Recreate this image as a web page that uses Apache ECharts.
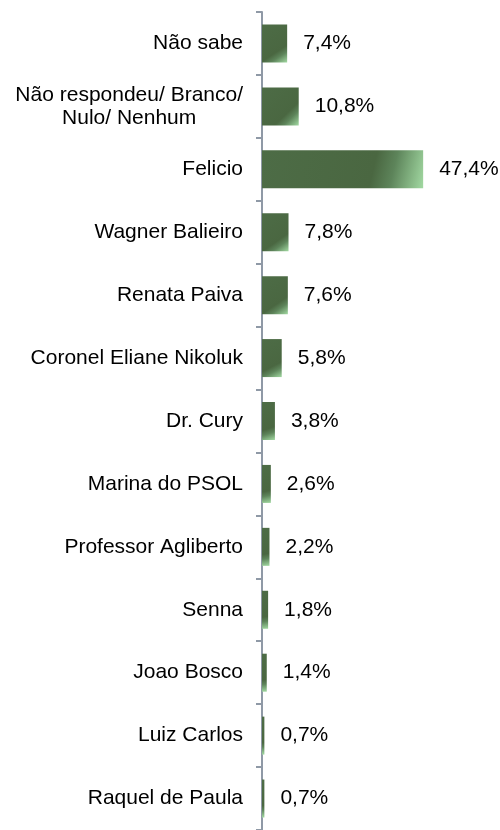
<!DOCTYPE html>
<html>
<head>
<meta charset="utf-8">
<script src="https://cdn.jsdelivr.net/npm/echarts@6/dist/echarts.min.js"></script>
<style>
  html, body { margin: 0; padding: 0; background: #fff; }
  #main { width: 500px; height: 830px; }
</style>
</head>
<body>
<div id="main"></div>
<script>
const categories = [
  'Não sabe',
  'Não respondeu/ Branco/\nNulo/ Nenhum',
  'Felicio',
  'Wagner Balieiro',
  'Renata Paiva',
  'Coronel Eliane Nikoluk',
  'Dr. Cury',
  'Marina do PSOL',
  'Professor Agliberto',
  'Senna',
  'Joao Bosco',
  'Luiz Carlos',
  'Raquel de Paula'
];
const values = [7.4, 10.8, 47.4, 7.8, 7.6, 5.8, 3.8, 2.6, 2.2, 1.8, 1.4, 0.7, 0.7];

const chart = echarts.init(document.getElementById('main'));

// dark green with a light corner bottom-right
const barFill = new echarts.graphic.LinearGradient(0, 0, 1, 1, [
  { offset: 0, color: '#4d6c46' },
  { offset: 0.68, color: '#4a6741' },
  { offset: 0.8, color: '#5d845a' },
  { offset: 1, color: '#a2d9a2' }
]);

chart.setOption({
  animation: false,
  grid: { left: 262, right: 34, top: 12, bottom: 0 },
  xAxis: {
    type: 'value',
    min: 0,
    max: 60,
    show: false
  },
  yAxis: {
    type: 'category',
    inverse: true,
    data: categories,
    axisLine: { show: true, lineStyle: { color: '#8f99a6', width: 2 } },
    axisTick: { show: true, length: 6, lineStyle: { color: '#8f99a6', width: 2 } },
    axisLabel: {
      margin: 19,
      color: '#000',
      fontFamily: 'Liberation Sans, Arial, sans-serif',
      fontSize: 21,
      lineHeight: 23,
      formatter: (v) => '{c|' + v + '}',
      rich: {
        c: {
          align: 'center',
          color: '#000',
          fontFamily: 'Liberation Sans, Arial, sans-serif',
          fontSize: 21,
          lineHeight: 23
        }
      }
    }
  },
  series: [{
    type: 'bar',
    data: values,
    barWidth: 38,
    itemStyle: { color: barFill },
    label: {
      show: true,
      position: 'right',
      distance: 16,
      color: '#000',
      fontFamily: 'Liberation Sans, Arial, sans-serif',
      fontSize: 21,
      formatter: (p) => p.value.toFixed(1).replace('.', ',') + '%'
    }
  }]
});
</script>
</body>
</html>
